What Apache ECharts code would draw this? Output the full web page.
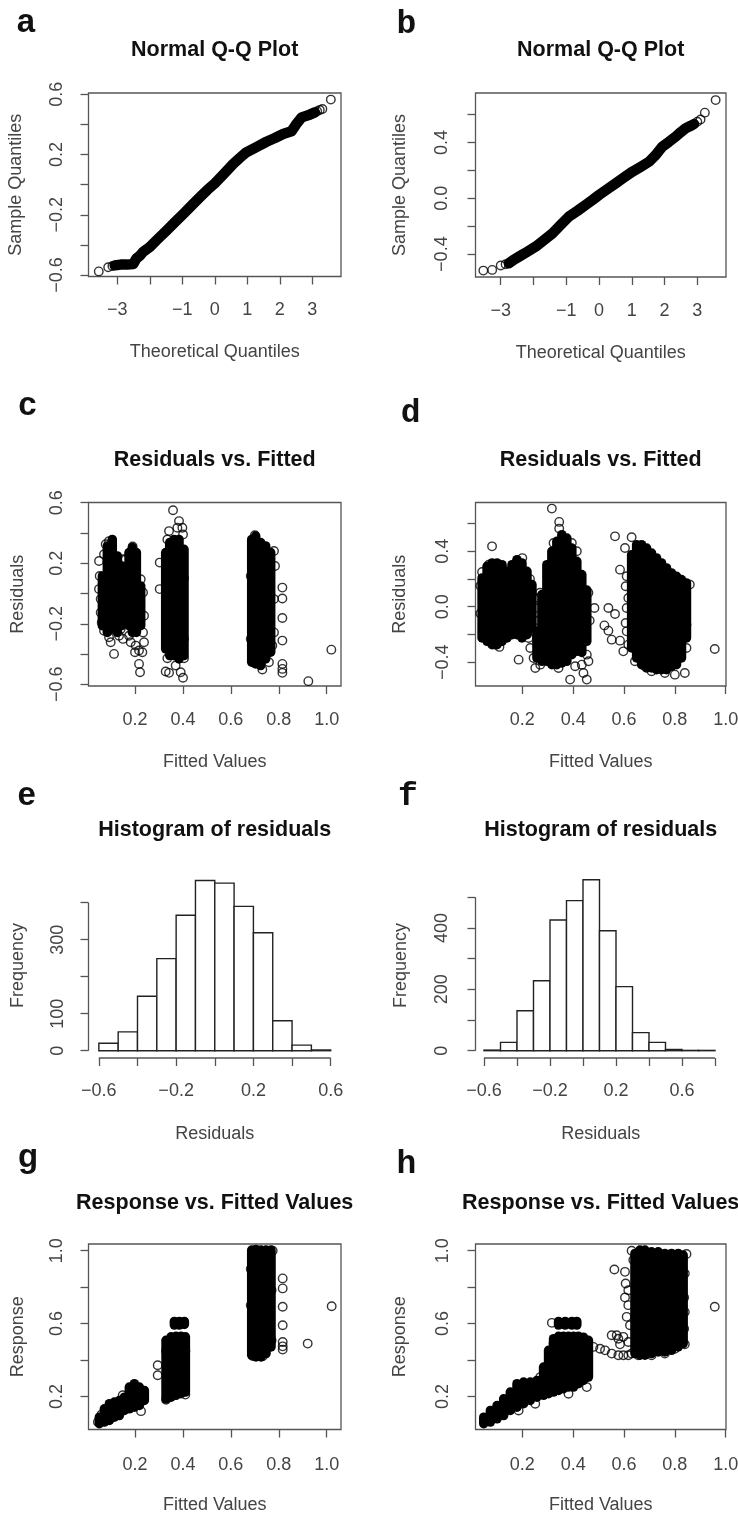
<!DOCTYPE html>
<html><head><meta charset="utf-8">
<script src="https://cdn.jsdelivr.net/npm/echarts@6/dist/echarts.min.js"></script>
<style>html,body{margin:0;padding:0;background:#fff}#c{width:738px;height:1514px}</style>
</head><body><div id="c"></div>
<script>
// ---------- DATA ----------
// Panel a: Normal Q-Q (dense band + sparse tail points) [theoretical, sample]
const qqA_band = [[-3.08,-0.536],[-2.9,-0.531],[-2.7,-0.531],[-2.51,-0.527],[-2.41,-0.49],[-2.31,-0.473],[-2.2,-0.445],[-2.0,-0.414],[-1.75,-0.36],[-1.49,-0.306],[-1.23,-0.25],[-0.97,-0.195],[-0.72,-0.14],[-0.46,-0.084],[-0.23,-0.035],[0,0.009],[0.28,0.072],[0.56,0.137],[0.77,0.178],[0.97,0.215],[1.28,0.25],[1.59,0.285],[1.85,0.31],[2.1,0.337],[2.36,0.355],[2.51,0.403],[2.67,0.447],[2.92,0.465],[3.08,0.48]];
const qqA_pts = [[-3.57,-0.576],[-3.28,-0.549],[-3.15,-0.54],[-3.0,-0.535],[3.15,0.488],[3.23,0.496],[3.31,0.503],[3.57,0.565]];
// Panel b
const qqB_band = [[-2.75,-0.466],[-2.6,-0.44],[-2.44,-0.418],[-2.2,-0.385],[-1.93,-0.346],[-1.68,-0.3],[-1.42,-0.251],[-1.17,-0.19],[-0.92,-0.131],[-0.66,-0.09],[-0.41,-0.048],[-0.2,-0.012],[0,0.024],[0.25,0.065],[0.51,0.107],[0.76,0.149],[1.02,0.191],[1.28,0.227],[1.53,0.263],[1.73,0.31],[1.93,0.37],[2.14,0.406],[2.34,0.442],[2.5,0.475],[2.64,0.501],[2.8,0.52],[2.9,0.533]];
const qqB_pts = [[-3.53,-0.518],[-3.26,-0.513],[-3.0,-0.482],[-2.85,-0.473],[3.0,0.549],[3.1,0.565],[3.23,0.614],[3.56,0.704]];

// Panel c: residuals vs fitted. dense columns [fitted, resid low, resid high]; sparse points [fitted, resid]
const resC_cols = [[0.0637,-0.213,0.116],[0.0845,-0.257,0.314],[0.105,-0.235,0.357],[0.126,-0.257,0.248],[0.144,-0.213,0.182],
  [0.175,-0.213,0.27],[0.189,-0.257,0.303],[0.2056,-0.257,0.27],[0.2237,-0.213,0.05],
  [0.328,-0.366,0.27],[0.3447,-0.41,0.336],[0.3628,-0.41,0.357],[0.3836,-0.432,0.357],[0.4045,-0.41,0.292],
  [0.687,-0.454,0.357],[0.7036,-0.465,0.379],[0.7245,-0.476,0.336],[0.7453,-0.432,0.314],[0.7662,-0.388,0.27]];
const resC_pts = [[0.0497,0.215],[0.0525,0.116],[0.0497,0.029],[0.0567,-0.037],[0.0567,-0.125],[0.0609,-0.191],[0.0706,-0.246],[0.0915,-0.289],[0.0984,-0.322],[0.1124,-0.399],[0.1332,-0.279],[0.1402,-0.235],[0.1499,-0.3],[0.0776,0.325],[0.0915,0.346],[0.0706,0.259],[0.1471,0.226],[0.1499,0.05],[0.1402,-0.037],[0.1263,-0.147],[0.1332,-0.202],
  [0.161,0.226],[0.158,0.116],[0.168,-0.081],[0.175,-0.279],[0.182,-0.322],[0.2028,-0.344],[0.2167,-0.377],[0.2306,-0.388],[0.2376,-0.322],[0.2334,-0.257],[0.2376,-0.147],[0.2334,0.007],[0.2237,0.094],[0.2167,-0.465],[0.2209,-0.52],[0.2,-0.388],[0.19,0.31],
  [0.3586,0.55],[0.3836,0.478],[0.3976,0.434],[0.4003,0.39],[0.3767,0.434],[0.3419,0.412],[0.335,0.357],[0.303,0.204],[0.303,0.029],[0.335,-0.428],[0.328,-0.515],[0.342,-0.524],[0.3697,-0.476],[0.3906,-0.52],[0.4003,-0.557],[0.4045,-0.428],[0.4045,-0.3],[0.4045,0.1],
  [0.78,0.281],[0.7843,0.182],[0.78,-0.037],[0.78,-0.257],[0.773,-0.344],[0.759,-0.454],[0.7314,-0.502],[0.6967,-0.454],[0.683,0.116],[0.7,0.385],[0.683,-0.3],
  [0.815,0.039],[0.815,-0.033],[0.815,-0.162],[0.815,-0.311],[0.815,-0.465],[0.815,-0.498],[0.815,-0.524],[0.9234,-0.579],[1.0194,-0.371]];

// Panel d
const resD_cols = [[0.0418,-0.226,0.207],[0.0614,-0.25,0.291],[0.081,-0.274,0.315],[0.1007,-0.274,0.315],[0.1203,-0.25,0.303],[0.1399,-0.226,0.255],[0.1595,-0.202,0.303],[0.1791,-0.202,0.339],[0.1987,-0.226,0.315],[0.2183,-0.202,0.255],[0.2379,-0.154,0.159],
  [0.2575,-0.37,-0.178],[0.2771,-0.394,0.087],[0.2967,-0.394,0.303],[0.3163,-0.418,0.399],[0.3359,-0.418,0.471],[0.3556,-0.406,0.519],[0.3752,-0.394,0.495],[0.3948,-0.346,0.423],[0.4144,-0.322,0.327],[0.434,-0.33,0.231],[0.4536,-0.25,0.12],
  [0.63,-0.298,0.375],[0.6497,-0.37,0.447],[0.6693,-0.418,0.447],[0.6889,-0.442,0.423],[0.7085,-0.442,0.387],[0.7281,-0.454,0.351],[0.7477,-0.454,0.315],[0.7673,-0.454,0.279],[0.7869,-0.43,0.243],[0.8065,-0.418,0.219],[0.8261,-0.37,0.195],[0.8457,-0.226,0.171]];
const resD_pts = [[0.081,0.435],[0.0549,0.207],[0.0484,0.087],[0.0614,-0.226],[0.0941,-0.274],[0.1856,-0.382],[0.251,-0.01],[0.251,-0.178],[0.264,0.063],[0.1791,0.327],[0.068,0.303],[0.0418,0.25],[0.035,0.15],[0.035,-0.05],[0.0484,-0.2],[0.11,-0.29],[0.2,0.35],[0.23,0.2],
  [0.3163,0.707],[0.3451,0.611],[0.3451,0.563],[0.3229,0.459],[0.3948,0.459],[0.4144,0.399],[0.4837,-0.01],[0.4536,-0.346],[0.4601,-0.394],[0.4405,-0.478],[0.4536,-0.526],[0.3882,-0.526],[0.434,-0.418],[0.251,-0.442],[0.2444,-0.37],[0.2706,-0.418],[0.3425,-0.442],[0.4078,-0.43],[0.2248,-0.226],[0.2314,-0.298],[0.27,0.1],[0.265,-0.1],[0.46,0.1],[0.465,-0.1],
  [0.5647,0.507],[0.6039,0.423],[0.5843,0.267],[0.6105,0.219],[0.6065,0.147],[0.617,0.063],[0.6105,-0.01],[0.6065,-0.118],[0.6105,-0.178],[0.617,-0.274],[0.6431,-0.394],[0.5386,-0.01],[0.5647,-0.053],[0.5229,-0.135],[0.5386,-0.173],[0.5516,-0.238],[0.5843,-0.245],[0.5974,-0.322],[0.63,0.5],[0.8588,0.159],[0.8392,0.063],[0.8457,-0.13],[0.8392,-0.226],[0.8457,-0.298],[0.8392,-0.478],[0.8,-0.49],[0.7608,-0.478],[0.7085,-0.466],[0.6824,-0.43],[0.9569,-0.305]];

// Panels e, f: histograms of residuals (bin edges, counts)
const histE_edges = [-0.6,-0.5,-0.4,-0.3,-0.2,-0.1,0,0.1,0.2,0.3,0.4,0.5,0.6];
const histE_counts = [20,51,147,249,366,460,453,390,319,81,15,2];
const histF_edges = [-0.6,-0.5,-0.4,-0.3,-0.2,-0.1,0,0.1,0.2,0.3,0.4,0.5,0.6,0.7,0.8];
const histF_counts = [2,27,130,228,426,489,557,391,209,59,27,4,1,1];

// Panel g: response vs fitted
const respG_cols = [[0.0511,0.05,0.086],[0.072,0.059,0.132],[0.0929,0.068,0.16],[0.1137,0.086,0.169],[0.1346,0.095,0.178],[0.1555,0.123,0.196],[0.1763,0.132,0.251],[0.1972,0.141,0.27],[0.2181,0.15,0.251],[0.2389,0.178,0.233],
  [0.3294,0.187,0.508],[0.3503,0.196,0.527],[0.3711,0.206,0.53],[0.392,0.215,0.53],[0.4101,0.224,0.527],[0.3642,0.592,0.612],[0.385,0.592,0.612],[0.4059,0.595,0.612],
  [0.687,0.426,1.004],[0.705,0.417,1.007],[0.7259,0.417,1.004],[0.7468,0.435,1.004],[0.7676,0.472,1.004]];
const respG_pts = [[0.225,0.119],[0.1485,0.206],[0.045,0.06],[0.06,0.1],[0.2946,0.371],[0.2946,0.316],[0.3294,0.182],[0.4101,0.21],[0.4101,0.45],[0.3294,0.45],
  [0.7746,1.0],[0.77,0.783],[0.77,0.508],[0.7329,0.42],[0.6912,0.422],[0.683,0.7],[0.683,0.9],
  [0.8163,0.848],[0.8163,0.793],[0.8163,0.692],[0.8163,0.591],[0.8163,0.499],[0.8163,0.475],[0.8163,0.457],[0.9207,0.49],[1.0208,0.695]];

// Panel h
const respH_cols = [[0.0484,0.05,0.086],[0.0745,0.059,0.123],[0.1007,0.077,0.15],[0.1268,0.095,0.187],[0.1529,0.123,0.224],[0.1791,0.141,0.27],[0.2052,0.16,0.279],[0.2314,0.178,0.279],[0.2575,0.196,0.288],[0.2837,0.206,0.361],[0.3033,0.215,0.453],[0.3229,0.224,0.517],[0.3425,0.233,0.53],[0.3621,0.242,0.53],[0.3817,0.251,0.53],[0.4013,0.251,0.53],[0.4209,0.27,0.53],[0.4405,0.288,0.525],[0.4601,0.306,0.508],
  [0.3425,0.592,0.612],[0.3686,0.592,0.612],[0.3948,0.592,0.612],[0.4144,0.592,0.612],
  [0.6431,0.435,0.985],[0.6627,0.426,1.004],[0.6824,0.426,1.004],[0.7085,0.435,0.994],[0.7346,0.444,0.994],[0.7608,0.444,0.985],[0.7869,0.453,0.985],[0.8131,0.472,0.985],[0.8327,0.49,0.976]];
const respH_pts = [[0.3163,0.604],[0.3229,0.49],[0.2706,0.306],[0.4536,0.306],[0.4536,0.251],[0.3817,0.215],[0.1856,0.123],[0.251,0.16],[0.4797,0.472],[0.5059,0.462],[0.5255,0.453],[0.5516,0.435],[0.5778,0.426],[0.5516,0.536],[0.5712,0.536],[0.5974,0.426],[0.617,0.426],[0.5843,0.486],[0.5778,0.517],
  [0.5621,0.897],[0.6039,0.884],[0.6065,0.82],[0.617,0.783],[0.6039,0.743],[0.617,0.701],[0.6105,0.637],[0.6235,0.591],[0.5974,0.527],[0.617,0.499],[0.63,1.0],[0.6366,0.949],
  [0.8458,0.982],[0.8392,0.875],[0.8366,0.743],[0.8392,0.664],[0.8366,0.572],[0.8392,0.486],[0.8,0.462],[0.7608,0.435],[0.7085,0.426],[0.6562,0.426],[0.63,0.435],[0.9569,0.692]];

// Tick / label values
const qqX_ticks = [-3,-2,-1,0,1,2,3];
const qqX_labels = [-3,-1,0,1,2,3];
const qqA_yTicks = [-0.6,-0.4,-0.2,0,0.2,0.4,0.6];
const qqA_yLabels = [-0.6,-0.2,0.2,0.6];
const qqB_yTicks = [-0.4,-0.2,0,0.2,0.4,0.6];
const qqB_yLabels = [-0.4,0,0.4];
const fit_ticks = [0.2,0.4,0.6,0.8,1.0];
const resC_yTicks = [-0.6,-0.4,-0.2,0,0.2,0.4,0.6];
const resC_yLabels = [-0.6,-0.2,0.2,0.6];
const resD_yTicks = [-0.4,-0.2,0,0.2,0.4,0.6];
const resD_yLabels = [-0.4,0,0.4];
const histE_xTicks = [-0.6,-0.4,-0.2,0,0.2,0.4,0.6];
const histF_xTicks = [-0.6,-0.4,-0.2,0,0.2,0.4,0.6,0.8];
const hist_xLabels = [-0.6,-0.2,0.2,0.6];
const histE_yTicks = [0,100,200,300,400];
const histE_yLabels = [0,100,300];
const histF_yTicks = [0,100,200,300,400,500];
const histF_yLabels = [0,200,400];
const resp_yTicks = [0.2,0.4,0.6,0.8,1.0];
const resp_yLabels = [0.2,0.6,1.0];

const panelTitles = ['Normal Q-Q Plot','Normal Q-Q Plot','Residuals vs. Fitted','Residuals vs. Fitted','Histogram of residuals','Histogram of residuals','Response vs. Fitted Values','Response vs. Fitted Values'];
const panelLetters = ['a','b','c','d','e','f','g','h'];

// ---------- STYLE / LAYOUT ----------
const FONT = "'Liberation Sans', Arial, Helvetica, sans-serif";
const MONO = "'Liberation Mono', 'Courier New', monospace";
const AX = '#555', TXT = '#444';
const grids = [
  {left:88.5, top:93, width:252.5, height:183.5, box:true},
  {left:475.5, top:93, width:250.5, height:184, box:true},
  {left:88.5, top:502.5, width:252.5, height:183.5, box:true},
  {left:475.5, top:502.5, width:250.5, height:183.5, box:true},
  {left:88.5, top:873, width:252.5, height:185, box:false},
  {left:475.5, top:873, width:250.5, height:185, box:false},
  {left:88.5, top:1244, width:252.5, height:185.5, box:true},
  {left:475.5, top:1244, width:250.5, height:185.5, box:true}
];
const xr = [[-3.886,3.883],[-3.769,3.876],[0.0058,1.0597],[0.0159,1.0012],[-0.6536,0.6533],[-0.6515,0.8667],[0.0058,1.0597],[0.0159,1.0012]];
const yr = [[-0.61,0.609],[-0.564,0.755],[-0.611,0.601],[-0.572,0.751],[-19.7,480.3],[-23.8,579.2],[0.0183,1.0369],[0.0183,1.0369]];

function fmt(dec){ return v => (v < -1e-9 ? '\u2212' : '') + Math.abs(v).toFixed(dec); }
const labelFont = {color:TXT, fontSize:18, fontFamily:FONT};

function xAx(i, ticks, labels, dec, name, margin){
  return {gridIndex:i, type:'value', min:xr[i][0], max:xr[i][1],
    axisLine:{show:false, onZero:false}, splitLine:{show:false},
    axisTick:{show:true, inside:false, length:8, customValues:ticks, lineStyle:{color:AX, width:1.3}},
    axisLabel:Object.assign({show:true, customValues:labels, formatter:fmt(dec), margin:margin, align:'center', verticalAlign:'middle', hideOverlap:false}, labelFont),
    name:name, nameLocation:'middle', nameGap:76,
    nameTextStyle:Object.assign({align:'center', verticalAlign:'middle'}, labelFont)};
}
function yAx(i, ticks, labels, dec, name, margin, gap){
  return {gridIndex:i, type:'value', min:yr[i][0], max:yr[i][1],
    axisLine:{show:false, onZero:false}, splitLine:{show:false},
    axisTick:{show:true, inside:false, length:8, customValues:ticks, lineStyle:{color:AX, width:1.3}},
    axisLabel:Object.assign({show:true, customValues:labels, formatter:fmt(dec), rotate:90, margin:margin, align:'center', verticalAlign:'middle', hideOverlap:false}, labelFont),
    name:name, nameLocation:'middle', nameGap:gap, nameRotate:90,
    nameTextStyle:Object.assign({align:'center', verticalAlign:'middle'}, labelFont)};
}

const ringStyle = {color:'rgba(255,255,255,0)', borderColor:'#000', borderWidth:1.4};
function rings(i, data){
  return {type:'scatter', xAxisIndex:i, yAxisIndex:i, data:data, symbol:'circle', symbolSize:8.5, itemStyle:ringStyle, silent:true, clip:false, z:3};
}
function band(i, data){
  return {type:'line', xAxisIndex:i, yAxisIndex:i, data:data, showSymbol:false, symbol:'none', smooth:false, silent:true, clip:false,
    lineStyle:{color:'#000', width:10.5, cap:'round', join:'round'}, z:2};
}
function cols(i, data){
  return {type:'custom', xAxisIndex:i, yAxisIndex:i, data:data, silent:true, clip:false, z:2,
    encode:{x:0, y:[1,2]},
    renderItem:function(params, api){
      const p1 = api.coord([api.value(0), api.value(1)]);
      const p2 = api.coord([api.value(0), api.value(2)]);
      return {type:'line', shape:{x1:p1[0], y1:p1[1], x2:p2[0], y2:p2[1]}, style:{stroke:'#000', lineWidth:9.5, lineCap:'round'}};
    }};
}
function hist(i, edges, counts){
  const data = counts.map((c,k) => [edges[k], edges[k+1], c]);
  return {type:'custom', xAxisIndex:i, yAxisIndex:i, data:data, silent:true, clip:false, z:2,
    encode:{x:[0,1], y:2},
    renderItem:function(params, api){
      const p0 = api.coord([api.value(0), 0]);
      const p1 = api.coord([api.value(1), api.value(2)]);
      return {type:'rect', shape:{x:p0[0], y:p1[1], width:p1[0]-p0[0], height:p0[1]-p1[1]}, style:{fill:'#fff', stroke:'#222', lineWidth:1.4}};
    }};
}
function axisLines(i, xTicks, yTicks){
  const xl = {type:'line', xAxisIndex:i, yAxisIndex:i, data:[[xTicks[0], yr[i][0]],[xTicks[xTicks.length-1], yr[i][0]]], symbol:'none', silent:true, clip:false, lineStyle:{color:AX, width:1.3}, z:1};
  const yl = {type:'line', xAxisIndex:i, yAxisIndex:i, data:[[xr[i][0], yTicks[0]],[xr[i][0], yTicks[yTicks.length-1]]], symbol:'none', silent:true, clip:false, lineStyle:{color:AX, width:1.3}, z:1};
  return [xl, yl];
}

const xAxes = [
  xAx(0, qqX_ticks, qqX_labels, 0, 'Theoretical Quantiles', 34),
  xAx(1, qqX_ticks, qqX_labels, 0, 'Theoretical Quantiles', 34),
  xAx(2, fit_ticks, fit_ticks, 1, 'Fitted Values', 34),
  xAx(3, fit_ticks, fit_ticks, 1, 'Fitted Values', 34),
  xAx(4, histE_xTicks, hist_xLabels, 1, 'Residuals', 33),
  xAx(5, histF_xTicks, hist_xLabels, 1, 'Residuals', 33),
  xAx(6, fit_ticks, fit_ticks, 1, 'Fitted Values', 36),
  xAx(7, fit_ticks, fit_ticks, 1, 'Fitted Values', 36)
];
const yAxes = [
  yAx(0, qqA_yTicks, qqA_yLabels, 1, 'Sample Quantiles', 31, 72),
  yAx(1, qqB_yTicks, qqB_yLabels, 1, 'Sample Quantiles', 33, 75.5),
  yAx(2, resC_yTicks, resC_yLabels, 1, 'Residuals', 31, 70),
  yAx(3, resD_yTicks, resD_yLabels, 1, 'Residuals', 32, 75.5),
  yAx(4, histE_yTicks, histE_yLabels, 0, 'Frequency', 30, 70),
  yAx(5, histF_yTicks, histF_yLabels, 0, 'Frequency', 33, 74.5),
  yAx(6, resp_yTicks, resp_yLabels, 1, 'Response', 31, 70),
  yAx(7, resp_yTicks, resp_yLabels, 1, 'Response', 32, 75.5)
];

const series = [
  band(0, qqA_band), rings(0, qqA_pts),
  band(1, qqB_band), rings(1, qqB_pts),
  cols(2, resC_cols), rings(2, resC_pts),
  cols(3, resD_cols), rings(3, resD_pts),
  hist(4, histE_edges, histE_counts), ...axisLines(4, histE_xTicks, histE_yTicks),
  hist(5, histF_edges, histF_counts), ...axisLines(5, histF_xTicks, histF_yTicks),
  cols(6, respG_cols), rings(6, respG_pts),
  cols(7, respH_cols), rings(7, respH_pts)
];

const titlePos = [[214.7,50],[600.7,50],[214.7,460],[600.7,460],[214.7,830],[600.7,830],[214.7,1203],[600.7,1203]];
const letterPos = [[26,22.6],[406.5,24.8],[27.5,406],[410.7,414],[26.7,796.3],[408,796.5],[28,1157.6],[406.5,1164.8]];
const graphics = [];
panelTitles.forEach((t,k) => graphics.push({type:'text', x:titlePos[k][0], y:titlePos[k][1], silent:true,
  style:{text:t, font:'bold 21.5px ' + FONT, fill:'#111', align:'center', verticalAlign:'middle', textAlign:'center', textVerticalAlign:'middle'}}));
panelLetters.forEach((t,k) => graphics.push({type:'text', x:letterPos[k][0], y:letterPos[k][1], silent:true,
  style:{text:t, font:'bold ' + (k % 2 === 0 ? '33px ' + FONT : '33px ' + MONO), fill:'#111', align:'center', verticalAlign:'middle', textAlign:'center', textVerticalAlign:'middle'}}));

const chart = echarts.init(document.getElementById('c'), null, {renderer:'canvas'});
chart.setOption({
  animation:false,
  backgroundColor:'#fff',
  grid: grids.map(g => ({left:g.left, top:g.top, width:g.width, height:g.height, show:g.box, borderColor:AX, borderWidth:1.3, backgroundColor:'rgba(0,0,0,0)', containLabel:false, outerBoundsMode:'none'})),
  xAxis: xAxes,
  yAxis: yAxes,
  series: series,
  graphic: graphics
});
</script></body></html>
